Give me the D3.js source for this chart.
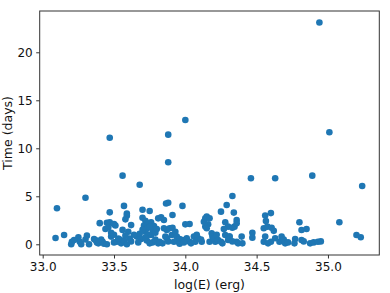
<!DOCTYPE html>
<html><head><meta charset="utf-8">
<script src="https://cdn.jsdelivr.net/npm/d3@7"></script>
<style>body{margin:0;background:#fff}svg{display:block}text{font-family:"DejaVu Sans",sans-serif}</style>
</head><body><svg id="c" width="390" height="293"></svg>
<script>
const logE = [34.94,34.00,35.01,33.88,33.47,33.88,33.56,34.89,34.46,34.63,33.68,35.24,33.30,34.33,33.10,33.57,33.98,33.865,33.88,34.29,34.25,34.34,33.70,33.75,33.47,33.59,33.59,33.91,34.56,34.60,34.565,33.40,33.47,33.50,33.45,33.58,33.62,33.51,33.44,33.46,33.56,33.15,33.31,33.09,33.83,33.85,34.00,34.03,34.13,34.14,34.15,34.17,34.16,34.14,34.15,34.28,34.30,34.27,34.33,34.345,34.36,34.36,34.80,34.815,34.85,35.08,34.47,34.47,34.31,35.20,35.23,34.95,
33.70,33.72,33.71,33.73,33.76,33.78,33.74,33.81,33.77,33.76,33.79,33.72,33.68,33.70,33.75,33.80,33.74,33.66,33.69,33.73,33.77,33.81,33.79,33.84,33.75,33.72,33.67,
33.36,33.38,33.37,33.39,33.41,33.42,33.43,33.48,33.50,33.52,33.54,33.55,33.57,33.59,33.61,33.62,33.64,33.48,33.50,33.53,33.45,33.60,33.58,
33.205,33.20,33.25,33.26,33.27,33.325,33.22,33.30,
33.85,33.87,33.89,33.91,33.905,33.93,33.87,33.88,33.94,33.95,33.96,33.98,34.01,34.03,34.06,34.07,34.09,34.115,33.82,33.92,33.86,33.96,34.04,34.08,34.11,33.99,
34.185,34.19,34.21,34.17,34.20,34.23,34.25,34.28,34.31,34.30,34.36,34.37,34.395,34.40,34.22,34.26,34.33,
34.56,34.55,34.60,34.63,34.66,34.675,34.70,34.55,34.575,34.605,34.62,34.58,34.69,34.72,
34.77,34.765,34.815,34.83,34.875,34.90,34.93];
const days = [23.1,12.95,11.67,11.42,11.1,8.54,7.15,7.15,6.88,6.88,6.2,6.07,4.85,5.03,3.75,4.0,4.0,4.25,4.33,4.1,3.4,3.3,3.6,3.47,3.33,3.2,2.98,3.05,3.0,3.25,2.43,2.2,2.3,2.1,2.25,2.6,2.0,1.95,1.6,1.75,1.5,0.97,0.9,0.66,2.8,2.53,2.08,2.12,2.35,2.7,2.88,2.7,2.08,1.85,1.67,2.29,1.84,1.6,1.73,1.84,2.53,2.2,2.29,1.49,1.6,2.29,1.2,0.69,0.8,0.97,0.73,0.3,
2.77,2.46,1.94,1.67,2.3,1.9,2.2,2.7,1.5,0.97,1.2,1.3,1.1,1.5,1.8,1.6,1.0,0.8,0.55,0.4,0.2,0.1,0.5,0.1,0.1,0.7,0.2,
0.55,0.2,0.45,0.1,0.5,0.27,0.05,0.8,0.2,0.27,0.5,0.1,0.4,0.0,0.6,0.3,1.0,1.2,1.0,0.6,0.0,1.3,0.9,
0.27,0.0,0.73,0.27,0.0,0.0,0.45,0.5,
1.67,1.5,1.67,1.73,0.97,1.3,0.63,0.3,0.8,0.27,0.55,0.45,0.63,0.27,0.8,0.27,0.63,0.27,0.27,0.27,0.8,0.05,0.1,1.0,0.5,0.2,
1.15,0.8,0.27,0.27,0.6,0.45,0.27,0.97,0.8,0.45,0.27,0.1,0.8,0.1,1.0,0.1,0.3,
0.8,0.27,0.27,0.63,0.27,0.8,0.1,1.67,1.84,1.73,1.4,0.1,0.5,0.2,
0.55,0.1,0.45,0.3,0.1,0.2,0.27];
const xTicks = [33.0,33.5,34.0,34.5,35.0];
const yTicks = [0,5,10,15,20];

const svg = d3.select("#c");
const L=39.7,R=379.3,T=11,B=255;
const x = d3.scaleLinear().domain([32.979,35.36]).range([L,R]);
const y = d3.scaleLinear().domain([-1.115,24.3]).range([B,T]);

svg.append("g").selectAll("circle").data(logE.map((v,i)=>[v,days[i]])).join("circle")
  .attr("cx",d=>x(d[0])).attr("cy",d=>y(d[1])).attr("r",3.3).attr("fill","#1f77b4");

svg.append("rect").attr("x",L).attr("y",T).attr("width",R-L).attr("height",B-T)
  .attr("fill","none").attr("stroke","#333").attr("stroke-width",1);

const xa = svg.append("g").attr("transform",`translate(0,${B})`)
  .call(d3.axisBottom(x).tickValues(xTicks).tickFormat(d3.format(".1f")).tickSize(3.5).tickPadding(3.5));
const ya = svg.append("g").attr("transform",`translate(${L},0)`)
  .call(d3.axisLeft(y).tickValues(yTicks).tickFormat(d3.format("d")).tickSize(3.5).tickPadding(3.5));
[xa,ya].forEach(a=>{a.select(".domain").remove();a.selectAll("line").attr("stroke","#333");
  a.selectAll("text").attr("font-size",12).attr("fill","#111").attr("font-family","DejaVu Sans");});

svg.append("text").attr("x",(L+R)/2).attr("y",289).attr("text-anchor","middle")
  .attr("font-size",12.5).attr("fill","#111").text("log(E) (erg)");
svg.append("text").attr("transform",`translate(12,${(T+B)/2}) rotate(-90)`).attr("text-anchor","middle")
  .attr("font-size",12.5).attr("fill","#111").text("Time (days)");
</script></body></html>
